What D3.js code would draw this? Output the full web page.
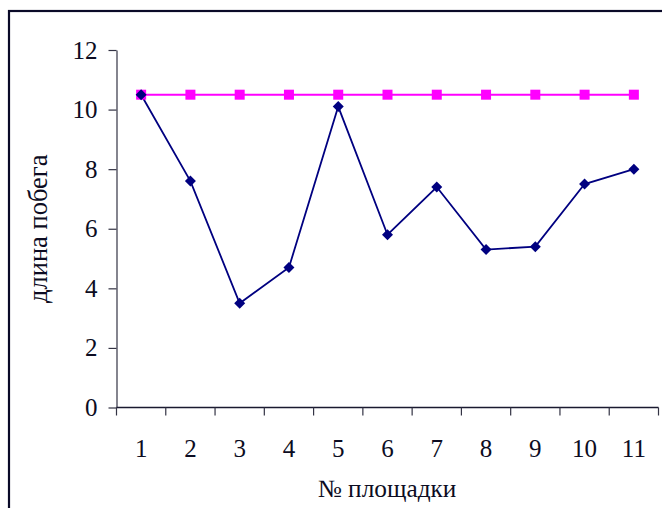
<!DOCTYPE html>
<html>
<head>
<meta charset="utf-8">
<script src="https://cdn.jsdelivr.net/npm/d3@7"></script>
<style>
  html, body { margin: 0; padding: 0; background: #fff; }
  svg { display: block; }
  text { font-family: "Liberation Serif", "Times New Roman", serif; fill: #0c0c22; }
</style>
</head>
<body>
<svg id="chart" width="662" height="508"></svg>
<script>
// Shoot length per plot, and the reference level
const plots = ["1", "2", "3", "4", "5", "6", "7", "8", "9", "10", "11"];
const shootLength = [10.5, 7.6, 3.5, 4.7, 10.1, 5.8, 7.4, 5.3, 5.4, 7.5, 8.0];
const referenceLevel = [10.5, 10.5, 10.5, 10.5, 10.5, 10.5, 10.5, 10.5, 10.5, 10.5, 10.5];
const yTicks = [0, 2, 4, 6, 8, 10, 12];
const yTitle = "длина побега";
const xTitle = "№ площадки";

const svg = d3.select("#chart");
const plotLeft = 116.5, plotRight = 658.5, plotTop = 50, plotBottom = 407.5;

// frame around the chart
svg.append("rect")
  .attr("x", 9).attr("y", 11)
  .attr("width", 700).attr("height", 600)
  .attr("fill", "none").attr("stroke", "#0a0a28").attr("stroke-width", 2.2);

const x = d3.scaleBand().domain(plots).range([plotLeft, plotRight]);
const y = d3.scaleLinear().domain([0, 12]).range([plotBottom, plotTop]);

// y axis
const yAxis = svg.append("g")
  .attr("transform", `translate(${plotLeft},0)`)
  .call(d3.axisLeft(y).tickValues(yTicks).tickSize(8).tickPadding(11).tickSizeOuter(0));
yAxis.select(".domain").attr("stroke", "#333344").attr("stroke-width", 1.2);
yAxis.selectAll(".tick line").attr("stroke", "#333344").attr("stroke-width", 1.2);
yAxis.selectAll(".tick text")
  .attr("font-size", 25)
  .attr("font-family", "Liberation Serif, serif")
  .attr("fill", "#0c0c22");

// x axis: ticks at category boundaries, labels centred in each band
const xAxisG = svg.append("g").attr("transform", `translate(0,${plotBottom})`);
xAxisG.append("line")
  .attr("x1", plotLeft).attr("x2", plotRight)
  .attr("y1", 0).attr("y2", 0)
  .attr("stroke", "#1a1a30").attr("stroke-width", 1.4);
const boundaries = plots.map(p => x(p)).concat([x(plots[plots.length - 1]) + x.bandwidth()]);
xAxisG.selectAll("line.tick")
  .data(boundaries)
  .join("line")
  .attr("class", "tick")
  .attr("x1", d => d).attr("x2", d => d)
  .attr("y1", 0).attr("y2", 8)
  .attr("stroke", "#333344").attr("stroke-width", 1.2);
xAxisG.selectAll("text")
  .data(plots)
  .join("text")
  .attr("x", d => x(d) + x.bandwidth() / 2)
  .attr("y", 49)
  .attr("text-anchor", "middle")
  .attr("font-size", 25)
  .text(d => d);

// axis titles
svg.append("text")
  .attr("transform", `translate(47,${(plotTop + plotBottom) / 2}) rotate(-90)`)
  .attr("text-anchor", "middle")
  .attr("font-size", 26.5)
  .text(yTitle);
svg.append("text")
  .attr("x", 387).attr("y", 497)
  .attr("text-anchor", "middle")
  .attr("font-size", 25.3)
  .text(xTitle);

const cx = (d, i) => x(plots[i]) + x.bandwidth() / 2;

// reference line with square markers
svg.append("path")
  .datum(referenceLevel)
  .attr("fill", "none")
  .attr("stroke", "#ff00ff")
  .attr("stroke-width", 2)
  .attr("d", d3.line().x(cx).y(d => y(d)));

// shoot length line with diamond markers
svg.append("path")
  .datum(shootLength)
  .attr("fill", "none")
  .attr("stroke", "#000080")
  .attr("stroke-width", 1.8)
  .attr("d", d3.line().x(cx).y(d => y(d)));

svg.selectAll("rect.sq")
  .data(referenceLevel)
  .join("rect")
  .attr("class", "sq")
  .attr("x", (d, i) => cx(d, i) - 5)
  .attr("y", d => y(d) - 5)
  .attr("width", 10).attr("height", 10)
  .attr("fill", "#ff00ff");

svg.selectAll("path.dm")
  .data(shootLength)
  .join("path")
  .attr("class", "dm")
  .attr("d", (d, i) => {
    const px = cx(d, i), py = y(d), r = 5.5;
    return `M${px},${py - r}L${px + r},${py}L${px},${py + r}L${px - r},${py}Z`;
  })
  .attr("fill", "#000080");
</script>
</body>
</html>
